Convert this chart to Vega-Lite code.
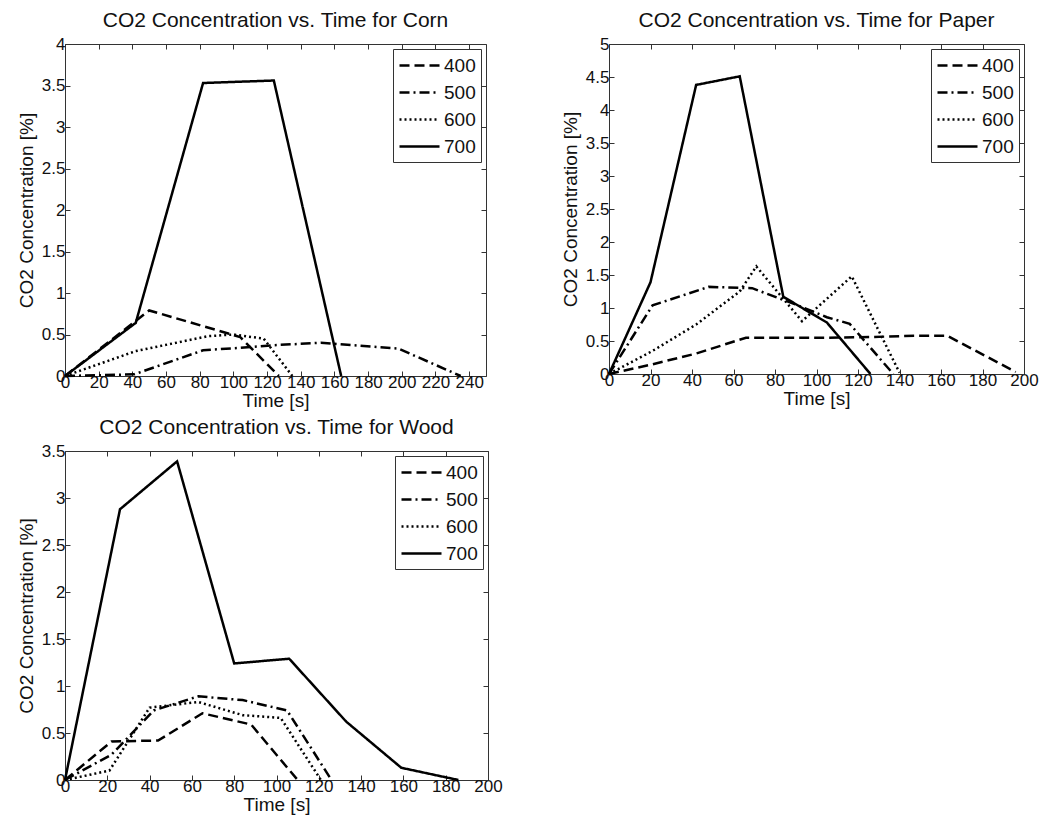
{
  "$schema": "https://vega.github.io/schema/vega-lite/v6.json",
  "padding": {"left": 16, "top": 9, "right": 0, "bottom": 0},
  "background": "white",
  "datasets": {
    "co2": [
      {"material": "Corn", "setting": "400", "time": 0, "co2": 0},
      {"material": "Corn", "setting": "400", "time": 50, "co2": 0.79},
      {"material": "Corn", "setting": "400", "time": 104, "co2": 0.47},
      {"material": "Corn", "setting": "400", "time": 127, "co2": 0},
      {"material": "Corn", "setting": "500", "time": 0, "co2": 0},
      {"material": "Corn", "setting": "500", "time": 41, "co2": 0.02},
      {"material": "Corn", "setting": "500", "time": 82, "co2": 0.31},
      {"material": "Corn", "setting": "500", "time": 104, "co2": 0.34},
      {"material": "Corn", "setting": "500", "time": 123, "co2": 0.37},
      {"material": "Corn", "setting": "500", "time": 152, "co2": 0.40},
      {"material": "Corn", "setting": "500", "time": 198, "co2": 0.33},
      {"material": "Corn", "setting": "500", "time": 235, "co2": 0},
      {"material": "Corn", "setting": "600", "time": 0, "co2": 0},
      {"material": "Corn", "setting": "600", "time": 42, "co2": 0.30},
      {"material": "Corn", "setting": "600", "time": 85, "co2": 0.48},
      {"material": "Corn", "setting": "600", "time": 100, "co2": 0.50},
      {"material": "Corn", "setting": "600", "time": 118, "co2": 0.45},
      {"material": "Corn", "setting": "600", "time": 135, "co2": 0},
      {"material": "Corn", "setting": "700", "time": 0, "co2": 0},
      {"material": "Corn", "setting": "700", "time": 42, "co2": 0.64},
      {"material": "Corn", "setting": "700", "time": 82, "co2": 3.53},
      {"material": "Corn", "setting": "700", "time": 124, "co2": 3.56},
      {"material": "Corn", "setting": "700", "time": 164, "co2": 0},
      {"material": "Paper", "setting": "400", "time": 0, "co2": 0},
      {"material": "Paper", "setting": "400", "time": 20, "co2": 0.14},
      {"material": "Paper", "setting": "400", "time": 42, "co2": 0.31},
      {"material": "Paper", "setting": "400", "time": 66, "co2": 0.55},
      {"material": "Paper", "setting": "400", "time": 105, "co2": 0.55},
      {"material": "Paper", "setting": "400", "time": 126, "co2": 0.56},
      {"material": "Paper", "setting": "400", "time": 147, "co2": 0.58},
      {"material": "Paper", "setting": "400", "time": 163, "co2": 0.58},
      {"material": "Paper", "setting": "400", "time": 196, "co2": 0.03},
      {"material": "Paper", "setting": "500", "time": 0, "co2": 0},
      {"material": "Paper", "setting": "500", "time": 21, "co2": 1.04},
      {"material": "Paper", "setting": "500", "time": 48, "co2": 1.32},
      {"material": "Paper", "setting": "500", "time": 69, "co2": 1.30},
      {"material": "Paper", "setting": "500", "time": 91, "co2": 1.04},
      {"material": "Paper", "setting": "500", "time": 105, "co2": 0.86},
      {"material": "Paper", "setting": "500", "time": 116, "co2": 0.76},
      {"material": "Paper", "setting": "500", "time": 137, "co2": 0},
      {"material": "Paper", "setting": "600", "time": 0, "co2": 0},
      {"material": "Paper", "setting": "600", "time": 21, "co2": 0.35},
      {"material": "Paper", "setting": "600", "time": 42, "co2": 0.75},
      {"material": "Paper", "setting": "600", "time": 63, "co2": 1.25},
      {"material": "Paper", "setting": "600", "time": 71, "co2": 1.63},
      {"material": "Paper", "setting": "600", "time": 93, "co2": 0.80},
      {"material": "Paper", "setting": "600", "time": 117, "co2": 1.48},
      {"material": "Paper", "setting": "600", "time": 140, "co2": 0.02},
      {"material": "Paper", "setting": "700", "time": 0, "co2": 0},
      {"material": "Paper", "setting": "700", "time": 20, "co2": 1.39},
      {"material": "Paper", "setting": "700", "time": 42, "co2": 4.38},
      {"material": "Paper", "setting": "700", "time": 63, "co2": 4.51},
      {"material": "Paper", "setting": "700", "time": 84, "co2": 1.17},
      {"material": "Paper", "setting": "700", "time": 105, "co2": 0.78},
      {"material": "Paper", "setting": "700", "time": 126, "co2": 0},
      {"material": "Wood", "setting": "400", "time": 0, "co2": 0},
      {"material": "Wood", "setting": "400", "time": 22, "co2": 0.41},
      {"material": "Wood", "setting": "400", "time": 44, "co2": 0.42},
      {"material": "Wood", "setting": "400", "time": 65, "co2": 0.71},
      {"material": "Wood", "setting": "400", "time": 88, "co2": 0.59},
      {"material": "Wood", "setting": "400", "time": 110, "co2": 0},
      {"material": "Wood", "setting": "500", "time": 0, "co2": 0},
      {"material": "Wood", "setting": "500", "time": 22, "co2": 0.27},
      {"material": "Wood", "setting": "500", "time": 42, "co2": 0.74},
      {"material": "Wood", "setting": "500", "time": 63, "co2": 0.89},
      {"material": "Wood", "setting": "500", "time": 84, "co2": 0.85},
      {"material": "Wood", "setting": "500", "time": 105, "co2": 0.74},
      {"material": "Wood", "setting": "500", "time": 126, "co2": 0},
      {"material": "Wood", "setting": "600", "time": 0, "co2": 0},
      {"material": "Wood", "setting": "600", "time": 21, "co2": 0.10},
      {"material": "Wood", "setting": "600", "time": 40, "co2": 0.77},
      {"material": "Wood", "setting": "600", "time": 63, "co2": 0.83},
      {"material": "Wood", "setting": "600", "time": 84, "co2": 0.69},
      {"material": "Wood", "setting": "600", "time": 102, "co2": 0.66},
      {"material": "Wood", "setting": "600", "time": 121, "co2": 0},
      {"material": "Wood", "setting": "700", "time": 0, "co2": 0},
      {"material": "Wood", "setting": "700", "time": 26, "co2": 2.88},
      {"material": "Wood", "setting": "700", "time": 53, "co2": 3.39},
      {"material": "Wood", "setting": "700", "time": 80, "co2": 1.24},
      {"material": "Wood", "setting": "700", "time": 106, "co2": 1.29},
      {"material": "Wood", "setting": "700", "time": 133, "co2": 0.62},
      {"material": "Wood", "setting": "700", "time": 159, "co2": 0.13},
      {"material": "Wood", "setting": "700", "time": 186, "co2": 0}
    ]
  },
  "data": {"name": "co2"},
  "spacing": 5,
  "resolve": {"scale": {"strokeDash": "independent", "x": "independent", "y": "independent"}, "legend": {"strokeDash": "independent"}},
  "vconcat": [
    {
      "hconcat": [
        {
          "title": "CO2 Concentration vs. Time for Corn",
          "width": 421, "height": 332,
          "transform": [{"filter": "datum.material === 'Corn'"}],
          "layer": [
            {
              "mark": {"type": "line", "strokeWidth": 2.5, "color": "black", "strokeCap": "butt"},
              "encoding": {
                "x": {"field": "time", "type": "quantitative", "scale": {"domain": [0, 250], "nice": false}, "axis": {"title": "Time [s]", "format": "d", "values": [0, 20, 40, 60, 80, 100, 120, 140, 160, 180, 200, 220, 240]}},
                "y": {"field": "co2", "type": "quantitative", "scale": {"domain": [0, 4], "nice": false}, "axis": {"title": "CO2 Concentration [%]", "format": "~r", "values": [0, 0.5, 1, 1.5, 2, 2.5, 3, 3.5, 4]}},
                "strokeDash": {"field": "setting", "type": "nominal", "scale": {"domain": ["400", "500", "600", "700"], "range": [[10, 5], [10, 4, 2, 4], [2, 3], [1, 0]]}, "legend": {"title": null}}
              }
            },
            {
              "mark": {"type": "line", "opacity": 0},
              "encoding": {
                "x": {"field": "time", "type": "quantitative", "axis": {"orient": "top", "title": null, "labels": false, "values": [0, 20, 40, 60, 80, 100, 120, 140, 160, 180, 200, 220, 240]}},
                "y": {"field": "co2", "type": "quantitative", "axis": {"orient": "right", "title": null, "labels": false, "values": [0, 0.5, 1, 1.5, 2, 2.5, 3, 3.5, 4]}}
              }
            }
          ],
          "resolve": {"axis": {"x": "independent", "y": "independent"}}
        },
        {
          "title": "CO2 Concentration vs. Time for Paper",
          "width": 415, "height": 330,
          "transform": [{"filter": "datum.material === 'Paper'"}],
          "layer": [
            {
              "mark": {"type": "line", "strokeWidth": 2.5, "color": "black", "strokeCap": "butt"},
              "encoding": {
                "x": {"field": "time", "type": "quantitative", "scale": {"domain": [0, 200], "nice": false}, "axis": {"title": "Time [s]", "format": "d", "values": [0, 20, 40, 60, 80, 100, 120, 140, 160, 180, 200]}},
                "y": {"field": "co2", "type": "quantitative", "scale": {"domain": [0, 5], "nice": false}, "axis": {"title": "CO2 Concentration [%]", "format": "~r", "values": [0, 0.5, 1, 1.5, 2, 2.5, 3, 3.5, 4, 4.5, 5]}},
                "strokeDash": {"field": "setting", "type": "nominal", "scale": {"domain": ["400", "500", "600", "700"], "range": [[10, 5], [10, 4, 2, 4], [2, 3], [1, 0]]}, "legend": {"title": null}}
              }
            },
            {
              "mark": {"type": "line", "opacity": 0},
              "encoding": {
                "x": {"field": "time", "type": "quantitative", "axis": {"orient": "top", "title": null, "labels": false, "values": [0, 20, 40, 60, 80, 100, 120, 140, 160, 180, 200]}},
                "y": {"field": "co2", "type": "quantitative", "axis": {"orient": "right", "title": null, "labels": false, "values": [0, 0.5, 1, 1.5, 2, 2.5, 3, 3.5, 4, 4.5, 5]}}
              }
            }
          ],
          "resolve": {"axis": {"x": "independent", "y": "independent"}}
        }
      ],
      "spacing": 73,
      "resolve": {"scale": {"strokeDash": "independent", "x": "independent", "y": "independent"}, "legend": {"strokeDash": "independent"}}
    },
    {
      "title": "CO2 Concentration vs. Time for Wood",
      "width": 423, "height": 329,
      "transform": [{"filter": "datum.material === 'Wood'"}],
      "layer": [
        {
          "mark": {"type": "line", "strokeWidth": 2.5, "color": "black", "strokeCap": "butt"},
          "encoding": {
            "x": {"field": "time", "type": "quantitative", "scale": {"domain": [0, 200], "nice": false}, "axis": {"title": "Time [s]", "format": "d", "values": [0, 20, 40, 60, 80, 100, 120, 140, 160, 180, 200]}},
            "y": {"field": "co2", "type": "quantitative", "scale": {"domain": [0, 3.5], "nice": false}, "axis": {"title": "CO2 Concentration [%]", "format": "~r", "values": [0, 0.5, 1, 1.5, 2, 2.5, 3, 3.5]}},
            "strokeDash": {"field": "setting", "type": "nominal", "scale": {"domain": ["400", "500", "600", "700"], "range": [[10, 5], [10, 4, 2, 4], [2, 3], [1, 0]]}, "legend": {"title": null}}
          }
        },
        {
          "mark": {"type": "line", "opacity": 0},
          "encoding": {
            "x": {"field": "time", "type": "quantitative", "axis": {"orient": "top", "title": null, "labels": false, "values": [0, 20, 40, 60, 80, 100, 120, 140, 160, 180, 200]}},
            "y": {"field": "co2", "type": "quantitative", "axis": {"orient": "right", "title": null, "labels": false, "values": [0, 0.5, 1, 1.5, 2, 2.5, 3, 3.5]}}
          }
        }
      ],
      "resolve": {"axis": {"x": "independent", "y": "independent"}}
    }
  ],
  "config": {
    "font": "Liberation Sans",
    "view": {"stroke": "#333", "strokeWidth": 1},
    "title": {"fontSize": 21, "fontWeight": "normal", "color": "#111", "offset": 4},
    "axis": {
      "domain": false,
      "grid": false,
      "ticks": true,
      "tickSize": -5,
      "tickColor": "#333",
      "labelFontSize": 17,
      "labelColor": "#111",
      "labelFlush": false,
      "labelOverlap": false,
      "titleFontSize": 19,
      "titleFontWeight": "normal",
      "titleColor": "#111"
    },
    "axisX": {"labelPadding": 3, "titlePadding": 1},
    "axisY": {"labelPadding": 5, "titlePadding": 5},
    "legend": {
      "orient": "top-right",
      "offset": 5,
      "strokeColor": "#333",
      "fillColor": "white",
      "padding": 5,
      "cornerRadius": 0,
      "symbolType": "M-1,0H3",
      "symbolSize": 400,
      "symbolStrokeWidth": 2.5,
      "symbolStrokeColor": "black",
      "labelFontSize": 19,
      "labelColor": "#111",
      "labelOffset": 23,
      "rowPadding": 5
    }
  }
}
